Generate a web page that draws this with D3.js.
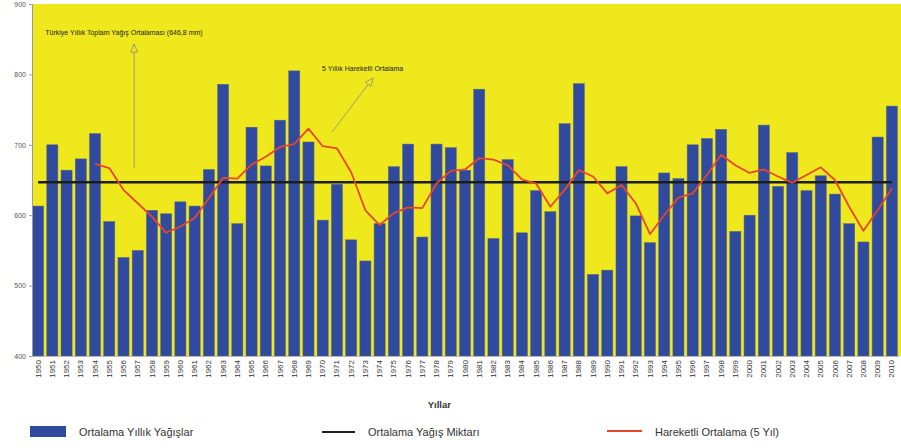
<!DOCTYPE html>
<html>
<head>
<meta charset="utf-8">
<script src="https://cdn.jsdelivr.net/npm/d3@7"></script>
<style>
  html, body { margin: 0; padding: 0; background: #ffffff; }
  svg { display: block; font-family: "Liberation Sans", Arial, sans-serif; }
</style>
</head>
<body>
<svg id="chart" width="901" height="448"></svg>
<script>
// ---- data ----
const years = d3.range(1950, 2011);
const rainfall = [
  613, 700, 664, 680, 716, 591, 540, 550, 607, 602,
  619, 613, 665, 786, 588, 725, 670, 735, 805, 704,
  593, 644, 565, 535, 588, 669, 701, 569, 701, 696,
  664, 779, 567, 679, 575, 635, 605, 730, 787, 516,
  522, 669, 599, 561, 660, 652, 700, 709, 722, 577,
  600, 728, 641, 689, 635, 656, 630, 588, 562, 711,
  755
];
// 5-year moving average (starts in 1954)
const movingAvgYears = d3.range(1954, 2011);
const movingAvg = [
  673, 667, 636, 617, 598, 575, 584, 596, 624, 653,
  652, 672, 683, 697, 701, 723, 698, 695, 661, 607,
  586, 603, 611, 610, 645, 663, 665, 681, 679, 671,
  651, 645, 612, 636, 664, 655, 631, 643, 617, 573,
  600, 625, 631, 657, 686, 671, 660, 665, 655, 646,
  657, 668, 650, 612, 578, 607, 638
];
const overallAvg = 646.8;
const yTicks = [400, 500, 600, 700, 800, 900];
const xTitle = "Yıllar";
const legendLabels = ["Ortalama Yıllık Yağışlar", "Ortalama Yağış Miktarı", "Hareketli Ortalama (5 Yıl)"];
const noteAvg = "Türkiye Yıllık Toplam Yağış Ortalaması (646,8 mm)";
const noteMA = "5 Yıllık Hareketli Ortalama";

// ---- styles ----
const C = {
  bg: "#efe81c",
  bar: "#2f4a9f",
  barEdge: "#5c6a8c",
  avg: "#1d1d1d",
  ma: "#e8452c",
  text: "#333333",
  axis: "#9a9a9a",
  arrow: "#8a8a7a"
};

const W = 901, H = 448;
const svg = d3.select("#chart");

const x = d3.scaleBand().domain(years).range([31, 899]).paddingInner(0.22).paddingOuter(0.11);
const y = d3.scaleLinear().domain([400, 900]).range([356, 4]);
const xc = yr => x(1950) + x.bandwidth() / 2 + (yr - 1950) * x.step();

// plot background
svg.append("rect")
  .attr("x", 32).attr("y", y(900))
  .attr("width", W - 32).attr("height", y(400) - y(900))
  .attr("fill", C.bg);

// bars
svg.append("g").selectAll("rect")
  .data(years.map((yr, i) => ({ yr, v: rainfall[i] })))
  .join("rect")
  .attr("x", d => x(d.yr))
  .attr("y", d => y(d.v))
  .attr("width", x.bandwidth())
  .attr("height", d => y(400) - y(d.v))
  .attr("fill", C.bar)
  .attr("stroke", C.barEdge)
  .attr("stroke-width", 0.5);

// average line
svg.append("line")
  .attr("x1", xc(1950)).attr("x2", xc(2010))
  .attr("y1", y(overallAvg)).attr("y2", y(overallAvg))
  .attr("stroke", C.avg).attr("stroke-width", 2.4);

// moving average line
const maData = movingAvgYears.map((yr, i) => ({ yr, v: movingAvg[i] }));
svg.append("path")
  .datum(maData)
  .attr("fill", "none")
  .attr("stroke", C.ma)
  .attr("stroke-width", 1.8)
  .attr("stroke-linejoin", "round")
  .attr("d", d3.line().x(d => xc(d.yr)).y(d => y(d.v)));

// y axis
const yAxis = svg.append("g")
  .attr("transform", "translate(32,0)")
  .call(d3.axisLeft(y).tickValues(yTicks).tickSize(3).tickPadding(3).tickFormat(d3.format("d")));
yAxis.select(".domain").attr("stroke", C.axis);
yAxis.selectAll(".tick line").attr("stroke", C.axis);
yAxis.selectAll("text").attr("font-size", 7).attr("fill", "#555");

// x axis
const xAxis = svg.append("g")
  .attr("transform", `translate(0,${y(400)})`)
  .call(d3.axisBottom(x).tickSize(0).tickSizeOuter(0));
xAxis.select(".domain").attr("stroke", C.axis).attr("stroke-width", 0.6);
xAxis.selectAll("text")
  .attr("font-size", 8)
  .attr("fill", "#333")
  .attr("text-anchor", "end")
  .attr("transform", "rotate(-90)")
  .attr("x", -4)
  .attr("y", 0)
  .attr("dy", "0.32em");

// x axis title
svg.append("text")
  .attr("x", xc(1978.2)).attr("y", 408)
  .attr("text-anchor", "middle")
  .attr("font-size", 9.5).attr("font-weight", "bold").attr("fill", C.text)
  .text(xTitle);

// annotations
function arrow(x1, y1, x2, y2) {
  const g = svg.append("g");
  g.append("line").attr("x1", x1).attr("y1", y1).attr("x2", x2).attr("y2", y2)
    .attr("stroke", C.arrow).attr("stroke-width", 0.8);
  const ang = Math.atan2(y2 - y1, x2 - x1);
  const L = 8, Wd = 3.5;
  const bx = x2 - L * Math.cos(ang), by = y2 - L * Math.sin(ang);
  const px = -Math.sin(ang) * Wd, py = Math.cos(ang) * Wd;
  g.append("path")
    .attr("d", `M${x2},${y2}L${bx + px},${by + py}L${bx - px},${by - py}Z`)
    .attr("fill", C.bg).attr("stroke", C.arrow).attr("stroke-width", 0.8);
}
svg.append("text")
  .attr("x", xc(1950.5)).attr("y", y(856))
  .attr("font-size", 7).attr("fill", "#222")
  .text(noteAvg);
arrow(xc(1956.75), y(667), xc(1956.75), y(843));

svg.append("text")
  .attr("x", xc(1969.95)).attr("y", y(805))
  .attr("font-size", 7).attr("fill", "#222")
  .text(noteMA);
arrow(xc(1970.66), y(718), xc(1973.54), y(795));

// legend
const ly = 432;
const leg = svg.append("g").attr("font-size", 11).attr("fill", C.text);
leg.append("rect").attr("x", 30).attr("y", ly - 6).attr("width", 36).attr("height", 11).attr("fill", C.bar);
leg.append("text").attr("x", 79).attr("y", ly).attr("dy", "0.35em").text(legendLabels[0]);
leg.append("line").attr("x1", 322).attr("x2", 355).attr("y1", ly).attr("y2", ly)
  .attr("stroke", C.avg).attr("stroke-width", 2);
leg.append("text").attr("x", 368).attr("y", ly).attr("dy", "0.35em").text(legendLabels[1]);
leg.append("line").attr("x1", 607).attr("x2", 642).attr("y1", ly - 1).attr("y2", ly - 1)
  .attr("stroke", C.ma).attr("stroke-width", 2);
leg.append("text").attr("x", 655).attr("y", ly).attr("dy", "0.35em").text(legendLabels[2]);
</script>
</body>
</html>
